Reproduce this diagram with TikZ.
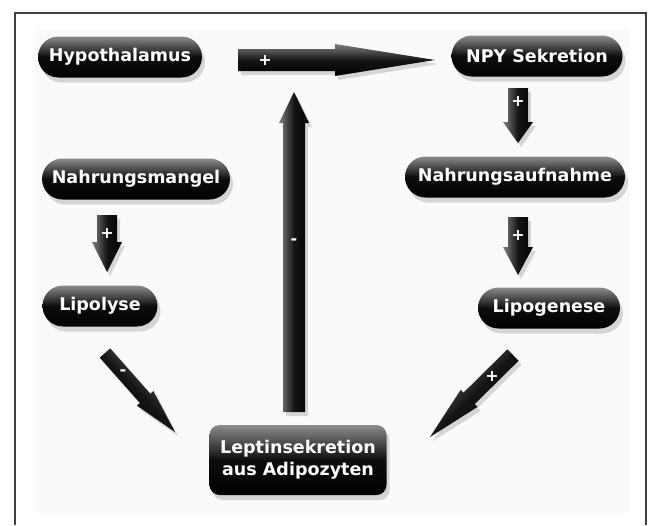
\documentclass[tikz,border=0pt]{standalone}
\usepackage{fontspec}
\setmainfont{DejaVu Sans}
\usetikzlibrary{calc,shadows,shapes.misc}
\newcommand\fatarr[6]{% #1 tail, #2 tip, #3 half shaft, #4 half head, #5 head length, #6 shading angle
  \coordinate (#1b) at ($(#2)!#5!(#1)$);
  \path[arrowfill, shading angle=#6]
    ($(#1)!#3!90:(#2)$) -- ($(#1b)!#3!90:(#2)$) -- ($(#1b)!#4!90:(#2)$) -- (#2)
    -- ($(#1b)!#4!-90:(#2)$) -- ($(#1b)!#3!-90:(#2)$) -- ($(#1)!#3!-90:(#2)$) -- cycle;}
\tikzset{
  pill/.style={rounded rectangle, minimum height=41pt, inner sep=0pt,
    top color=black!45, bottom color=black, middle color=black!95,
    text=white, font=\bfseries\fontsize{17.5}{20}\selectfont,
    drop shadow={opacity=0.3, shadow xshift=3pt, shadow yshift=-5pt}},
  arrowfill/.style={shade, top color=black!50, bottom color=black, middle color=black!92,
    drop shadow={opacity=0.3, shadow xshift=3pt, shadow yshift=-4pt}},
  sign/.style={text=white, font=\bfseries\fontsize{16}{16}\selectfont, inner sep=0pt}
}
\begin{document}
\begin{tikzpicture}[x=1pt,y=-1pt]
\useasboundingbox (0,0) rectangle (653,525);
\fill[white] (0,0) rectangle (653,525);
\fill[black!2] (35,30) rectangle (630,513);
\draw[black!75, line width=1.3pt] (15,525) -- (15,13) -- (646,13) -- (646,525);

% nodes
\node[pill, minimum width=164pt] (hyp) at (120,57) {Hypothalamus};
\node[pill, minimum width=171pt] (npy) at (537,56) {NPY Sekretion};
\node[pill, minimum width=188pt] (nm) at (136,179) {Nahrungsmangel};
\node[pill, minimum width=220pt] (na) at (515,177) {Nahrungsaufnahme};
\node[pill, minimum width=115pt] (lpl) at (100,306) {Lipolyse};
\node[pill, minimum width=142pt] (lpg) at (549,308) {Lipogenese};
\node[rectangle, rounded corners=10pt, minimum width=177pt, minimum height=70pt,
  top color=black!45, bottom color=black, middle color=black!95,
  drop shadow={opacity=0.3, shadow xshift=3pt, shadow yshift=-5pt},
  text=white, font=\bfseries\fontsize{17.5}{22}\selectfont, align=center]
  (lep) at (298,460) {Leptinsekretion\\aus Adipozyten};

% arrow end points
\coordinate (h1) at (238,60);  \coordinate (h2) at (435,60);
\coordinate (v1) at (294,412); \coordinate (v2) at (294,92);
\coordinate (n1) at (518,88);  \coordinate (n2) at (518,143);
\coordinate (a1) at (518,217); \coordinate (a2) at (518,275);
\coordinate (m1) at (107,215); \coordinate (m2) at (107,272);
\coordinate (p1) at (105,353); \coordinate (p2) at (175,432);
\coordinate (g1) at (513,355); \coordinate (g2) at (430,437);

\fatarr{h1}{h2}{11pt}{16pt}{100pt}{0}
\fatarr{v1}{v2}{11pt}{15pt}{31pt}{90}
\fatarr{n1}{n2}{10pt}{15pt}{21pt}{90}
\fatarr{a1}{a2}{10pt}{15pt}{28pt}{90}
\fatarr{m1}{m2}{10pt}{15pt}{30pt}{90}
\fatarr{p1}{p2}{7pt}{11pt}{45pt}{-45}
\fatarr{g1}{g2}{8pt}{12pt}{55pt}{45}

% signs
\node[sign] (s1) at (265,60) {+};
\node[sign] (s2) at (294,242) {-};
\node[sign] (s3) at (518,101) {+};
\node[sign] (s4) at (518,235) {+};
\node[sign] (s5) at (107,233) {+};
\node[sign] (s6) at (123,373) {-};
\node[sign] (s7) at (492,376) {+};
\end{tikzpicture}
\end{document}
